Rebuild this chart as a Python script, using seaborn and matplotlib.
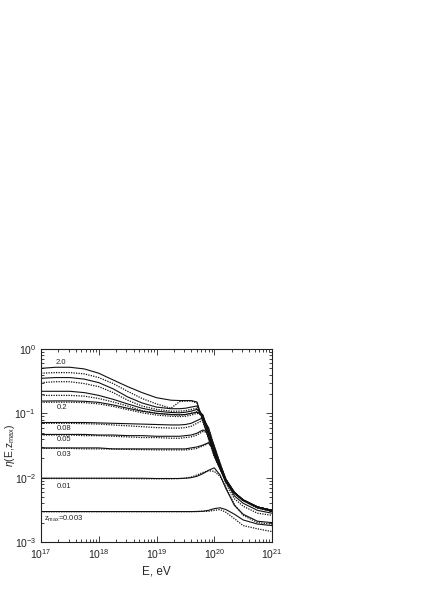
import numpy as np
import pandas as pd
import matplotlib
matplotlib.use("Agg")
import matplotlib.pyplot as plt
import seaborn as sns
from matplotlib.ticker import LogLocator, NullFormatter

# ---- data (log10 of energy in eV, and eta values) ----
logE = [17.0, 17.25, 17.5, 17.75, 18.0, 18.25, 18.5, 18.75, 19.0, 19.25, 19.4, 19.5,
        19.6, 19.7, 19.8, 19.9, 20.0, 20.1, 20.2, 20.35, 20.5, 20.75, 21.0]

eta_2_solid = [0.50, 0.52, 0.52, 0.49, 0.42, 0.33, 0.26, 0.21, 0.175, 0.16, 0.158, 0.158,
               0.158, 0.15, 0.078, 0.041, 0.022, 0.014, 0.0088, 0.0058, 0.0045, 0.0035, 0.0031]
eta_2_dot = [0.42, 0.43, 0.43, 0.41, 0.36, 0.29, 0.22, 0.17, 0.14, 0.12, 0.152, 0.155,
             0.155, 0.145, 0.075, 0.040, 0.021, 0.0135, 0.0086, 0.0057, 0.0044, 0.0034, 0.0030]
eta_1_solid = [0.35, 0.36, 0.36, 0.34, 0.30, 0.24, 0.18, 0.145, 0.125, 0.118, 0.118, 0.12,
               0.125, 0.13, 0.09, 0.046, 0.023, 0.014, 0.0088, 0.0058, 0.0045, 0.0035, 0.0031]
eta_1_dot = [0.30, 0.31, 0.31, 0.29, 0.26, 0.21, 0.16, 0.13, 0.115, 0.108, 0.108, 0.11,
             0.115, 0.12, 0.085, 0.044, 0.022, 0.0135, 0.0086, 0.0057, 0.0044, 0.0034, 0.0030]
eta_05_solid = [0.22, 0.22, 0.22, 0.21, 0.19, 0.165, 0.14, 0.12, 0.108, 0.103, 0.102, 0.104,
                0.108, 0.115, 0.095, 0.05, 0.024, 0.0145, 0.0088, 0.0058, 0.0045, 0.0035, 0.0031]
eta_05_dot = [0.19, 0.19, 0.19, 0.185, 0.17, 0.15, 0.13, 0.11, 0.10, 0.095, 0.094, 0.095,
              0.10, 0.106, 0.092, 0.049, 0.023, 0.014, 0.0086, 0.0057, 0.0044, 0.0034, 0.0030]
eta_02_solid = [0.155, 0.156, 0.156, 0.154, 0.148, 0.135, 0.12, 0.108, 0.10, 0.096, 0.095, 0.096,
                0.10, 0.104, 0.095, 0.054, 0.026, 0.015, 0.0088, 0.0058, 0.0045, 0.0035, 0.0031]
eta_02_dot = [0.148, 0.149, 0.149, 0.147, 0.14, 0.128, 0.114, 0.102, 0.094, 0.09, 0.089, 0.09,
              0.094, 0.10, 0.092, 0.053, 0.025, 0.0145, 0.0086, 0.0057, 0.0044, 0.0034, 0.0030]
eta_008_solid = [0.072, 0.072, 0.072, 0.072, 0.071, 0.070, 0.069, 0.068, 0.067, 0.066, 0.066, 0.067,
                 0.070, 0.077, 0.085, 0.060, 0.030, 0.016, 0.0093, 0.0059, 0.0045, 0.0035, 0.0031]
eta_008_dot = [0.070, 0.070, 0.070, 0.069, 0.068, 0.066, 0.064, 0.062, 0.060, 0.059, 0.059, 0.060,
               0.063, 0.070, 0.078, 0.060, 0.031, 0.0165, 0.0094, 0.0059, 0.0045, 0.0035, 0.0030]
eta_005_solid = [0.047, 0.047, 0.047, 0.047, 0.046, 0.046, 0.045, 0.045, 0.044, 0.044, 0.044, 0.045,
                 0.046, 0.049, 0.055, 0.051, 0.030, 0.0165, 0.0095, 0.0059, 0.0045, 0.0035, 0.0031]
eta_005_dot = [0.046, 0.046, 0.046, 0.045, 0.045, 0.044, 0.043, 0.042, 0.042, 0.041, 0.041, 0.042,
               0.043, 0.046, 0.052, 0.050, 0.031, 0.017, 0.0096, 0.0059, 0.0044, 0.0034, 0.0030]
eta_003_solid = [0.029, 0.029, 0.029, 0.029, 0.029, 0.028, 0.028, 0.028, 0.028, 0.028, 0.028, 0.028,
                 0.029, 0.030, 0.032, 0.035, 0.027, 0.0155, 0.0088, 0.0052, 0.0040, 0.0031, 0.0028]
eta_003_dot = [0.0285, 0.0285, 0.0285, 0.028, 0.028, 0.0278, 0.0275, 0.0273, 0.027, 0.027, 0.027, 0.027,
               0.0275, 0.0285, 0.031, 0.034, 0.027, 0.015, 0.0082, 0.0047, 0.0036, 0.0028, 0.0026]
eta_001_solid = [0.0098, 0.0098, 0.0098, 0.0098, 0.0098, 0.0098, 0.0098, 0.0098, 0.0097, 0.0097, 0.0097, 0.0098,
                 0.0100, 0.0105, 0.0115, 0.013, 0.0142, 0.011, 0.0068, 0.0037, 0.0027, 0.0021, 0.0020]
eta_001_dot = [0.0097, 0.0097, 0.0097, 0.0097, 0.0097, 0.0097, 0.0097, 0.0096, 0.0096, 0.0096, 0.0097, 0.0098,
               0.0102, 0.011, 0.012, 0.0128, 0.0125, 0.0105, 0.0072, 0.0038, 0.0026, 0.0020, 0.0019]
eta_0003_solid = [0.00297, 0.00297, 0.00297, 0.00297, 0.00297, 0.00297, 0.00297, 0.00297, 0.00297, 0.00297, 0.00297, 0.00297,
                  0.00297, 0.00298, 0.0030, 0.0031, 0.0033, 0.0034, 0.0032, 0.0027, 0.0022, 0.0019, 0.0018]
eta_0003_dot = [0.00296, 0.00296, 0.00296, 0.00296, 0.00296, 0.00296, 0.00296, 0.00296, 0.00296, 0.00296, 0.00296, 0.00296,
                0.00296, 0.00297, 0.0030, 0.0030, 0.0031, 0.0032, 0.0029, 0.0023, 0.0018, 0.0016, 0.00145]

solid_curves = [eta_2_solid, eta_1_solid, eta_05_solid, eta_02_solid, eta_008_solid,
                eta_005_solid, eta_003_solid, eta_001_solid, eta_0003_solid]
dotted_curves = [eta_2_dot, eta_1_dot, eta_05_dot, eta_02_dot, eta_008_dot,
                 eta_005_dot, eta_003_dot, eta_001_dot, eta_0003_dot]

label_texts = ["2.0", "0.2", "0.08", "0.05", "0.03", "0.01", r"z$_{\rm max}$=0.003"]
label_logE = [17.26, 17.27, 17.27, 17.27, 17.27, 17.27, 17.05]
label_eta = [0.62, 0.125, 0.059, 0.039, 0.023, 0.0074, 0.0023]

x_ticks = [1e17, 1e18, 1e19, 1e20, 1e21]
y_ticks = [1e-3, 1e-2, 1e-1, 1e0]

# ---- plotting ----
sns.set_style("ticks")
plt.rcParams["font.family"] = ["Liberation Sans", "DejaVu Sans"]
plt.rcParams["mathtext.fontset"] = "custom"
plt.rcParams["mathtext.rm"] = "Liberation Sans"
plt.rcParams["mathtext.it"] = "Liberation Sans:italic"

fig = plt.figure(figsize=(4.25, 6.01), dpi=100)
ax = fig.add_axes([0.0965, 0.0982, 0.5435, 0.3211])

E = np.power(10.0, logE)
for c in solid_curves:
    sns.lineplot(x=E, y=c, ax=ax, color="#111111", linewidth=0.8, linestyle="-",
                 sort=False, estimator=None)
for c in dotted_curves:
    sns.lineplot(x=E, y=c, ax=ax, color="#111111", linewidth=0.9, linestyle=(0, (1, 1)),
                 sort=False, estimator=None)

ax.set_xscale("log")
ax.set_yscale("log")
ax.set_xlim(1e17, 1e21)
ax.set_ylim(1e-3, 1e0)
ax.set_xticks(x_ticks)
ax.set_yticks(y_ticks)
ax.xaxis.set_minor_locator(LogLocator(base=10, subs=np.arange(2, 10), numticks=20))
ax.yaxis.set_minor_locator(LogLocator(base=10, subs=np.arange(2, 10), numticks=20))
ax.xaxis.set_minor_formatter(NullFormatter())
ax.yaxis.set_minor_formatter(NullFormatter())
ax.tick_params(which="both", direction="in", top=True, right=True, colors="#222222",
               labelsize=7.5, width=0.6)
ax.tick_params(which="major", length=4)
ax.tick_params(which="minor", length=2)
ax.tick_params(axis="x", pad=4)
for s in ax.spines.values():
    s.set_linewidth(0.8)
    s.set_color("#222222")

for t, lx, ly in zip(label_texts, label_logE, label_eta):
    ax.text(10 ** lx, ly, t, fontsize=5.5, ha="left", va="center", color="#222222")

ax.set_xlabel("E, eV", fontsize=8.5, labelpad=3)
ax.set_ylabel(r"$\eta$(E,z$_{\rm max}$)", fontsize=7.5)
ax.yaxis.set_label_coords(-0.105, 0.5)

fig.savefig("out.png", dpi=100, facecolor="white")
